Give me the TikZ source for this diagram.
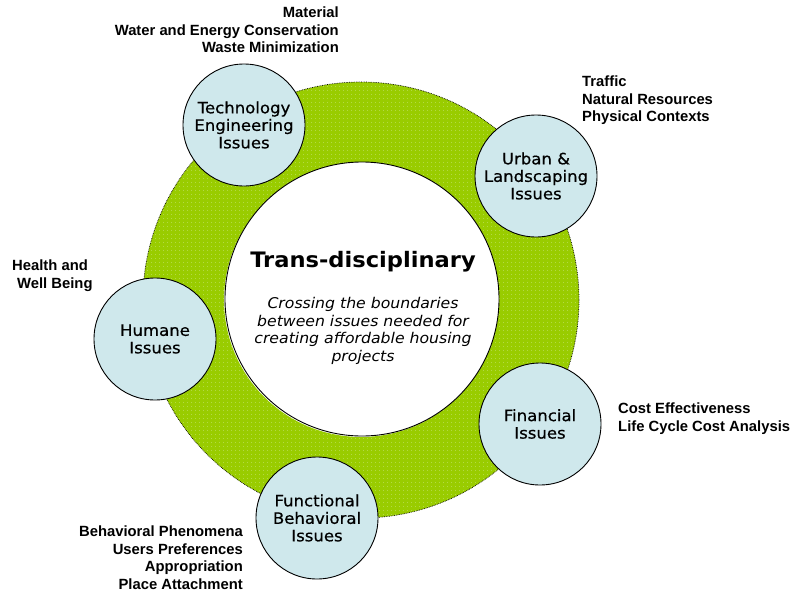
\documentclass[tikz,border=0pt]{standalone}
\usepackage{fontspec}
\setmainfont{Liberation Sans}
\newfontfamily\issuefont[FakeStretch=1.06,RawFeature={embolden=0.6}]{DejaVu Sans}
\newfontfamily\corefont[FakeStretch=1.06]{DejaVu Sans}
\usetikzlibrary{positioning,patterns.meta}
\definecolor{ringGreen}{HTML}{99CC00}
\definecolor{dotGreen}{HTML}{C8E67A}
\definecolor{issueBlue}{HTML}{CFE8EC}

\begin{document}
\begin{tikzpicture}[x=1pt,y=-1pt,
            issue/.style={circle,draw=black,line width=0.9pt,fill=issueBlue,
                          minimum size=122pt,inner sep=0pt,align=center,
                          font=\issuefont\fontsize{15.6}{17.5}\selectfont},
            note/.style={inner sep=0pt,font=\bfseries\fontsize{14.8}{17.5}\selectfont},
            ring/.style={even odd rule}]
            \useasboundingbox (0,0) rectangle (792,594);
            % dotted green ring round the centre
            \coordinate (hub) at (361,300);
            \fill[ringGreen,ring] (hub) circle[radius=218pt] (hub) circle[radius=137pt];
            \fill[pattern={Dots[distance=4pt,radius=0.45pt]},pattern color=dotGreen,ring]
                (hub) circle[radius=218pt] (hub) circle[radius=137pt];
            \draw[densely dotted,line width=0.7pt] (hub) circle[radius=218pt];
            \node[circle,draw=black,line width=0.9pt,fill=white,minimum size=274pt] (core) at (362,299) {};
            \node[anchor=base,inner sep=0pt,font=\corefont\bfseries\fontsize{21.3}{24}\selectfont]
                (title) at (363,267) {Trans-disciplinary};
            \node[anchor=north,align=center,inner sep=0pt,
                  font=\corefont\itshape\fontsize{14.8}{17.6}\selectfont] (desc) at (363,297)
                {Crossing the boundaries\\between issues needed for\\creating affordable housing\\projects};
            % issue circles
            \node[issue] (tech) at (244,125) {Technology\\Engineering\\Issues};
            \node[issue] (urban) at (536,176) {Urban \&\\Landscaping\\Issues};
            \node[issue] (humane) at (155,339) {Humane\\Issues};
            \node[issue] (financial) at (540,424) {Financial\\Issues};
            \node[issue] (functional) at (317,518) {Functional\\Behavioral\\Issues};
            % notes beside the circles
            \node[note,anchor=north east,align=right] (techNote) at (339,7)
                {Material\\Water and Energy Conservation\\Waste Minimization};
            \node[note,anchor=north west,align=left] (urbanNote) at (582,76)
                {Traffic\\Natural Resources\\Physical Contexts};
            \node[note,anchor=north west,align=left] (humaneNote) at (12,260)
                {Health and\\\hspace*{5pt}Well Being};
            \node[note,anchor=north west,align=left] (financialNote) at (618,403)
                {Cost Effectiveness\\Life Cycle Cost Analysis};
            \node[note,anchor=north east,align=right] (functionalNote) at (243,526)
                {Behavioral Phenomena\\Users Preferences\\Appropriation\\Place Attachment};
        \end{tikzpicture}
\end{document}
